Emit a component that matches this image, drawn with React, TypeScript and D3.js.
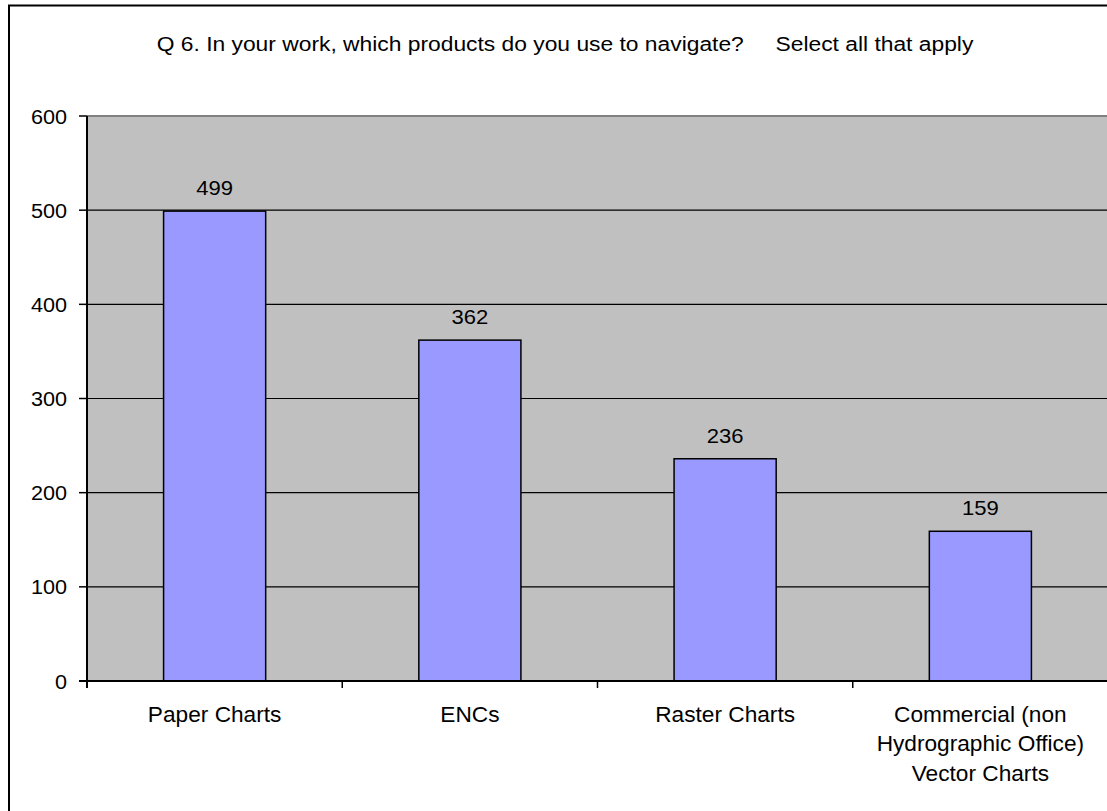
import React from "react";
import * as d3 from "d3";

const title = "Q 6. In your work, which products do you use to navigate?     Select all that apply";
const categories = ["Paper Charts", "ENCs", "Raster Charts", "Commercial (non\nHydrographic Office)\nVector Charts"];
const values = [499, 362, 236, 159];
const yTicks = [0, 100, 200, 300, 400, 500, 600];

const W = 1107;
const H = 811;
const plotLeft = 87;
const plotRight = 1108;
const plotTop = 116;
const plotBottom = 681;
const FONT = "'Liberation Sans', Arial, sans-serif";

export default function App() {
  const x = d3
    .scaleBand<string>()
    .domain(categories)
    .range([plotLeft, plotRight])
    .paddingInner(0.6)
    .paddingOuter(0.3);
  const y = d3.scaleLinear().domain([0, 600]).range([plotBottom, plotTop]);
  const step = (plotRight - plotLeft) / categories.length;
  const boundaries = d3.range(categories.length + 1).map((i) => plotLeft + i * step);

  return (
    <svg
      width={W}
      height={H}
      style={{ position: "absolute", left: 0, top: 0, background: "#fff" }}
      fontFamily={FONT}
    >
      <rect x={9} y={5.5} width={1300} height={1000} fill="#fff" stroke="#000" strokeWidth={2} />
      <text
        transform="translate(565,51) scale(1.17,1)"
        textAnchor="middle"
        fontSize={19.5}
        fill="#000"
        style={{ whiteSpace: "pre" }}
      >
        {title}
      </text>
      <rect x={plotLeft} y={plotTop} width={plotRight - plotLeft} height={plotBottom - plotTop} fill="#C0C0C0" />
      <line x1={plotLeft} x2={plotRight} y1={plotTop} y2={plotTop} stroke="#808080" strokeWidth={2} />
      {yTicks.filter((t) => t > 0 && t < 600).map((t) => (
        <line key={"g" + t} x1={plotLeft} x2={plotRight} y1={y(t)} y2={y(t)} stroke="#000" strokeWidth={1.2} />
      ))}
      {categories.map((c, i) => (
        <rect
          key={"b" + c}
          x={x(c)}
          y={y(values[i])}
          width={x.bandwidth()}
          height={y(0) - y(values[i])}
          fill="#9999FF"
          stroke="#000"
          strokeWidth={1.5}
        />
      ))}
      {categories.map((c, i) => (
        <text
          key={"v" + c}
          transform={`translate(${(x(c) as number) + x.bandwidth() / 2},${y(values[i]) - 16}) scale(1.05,1)`}
          textAnchor="middle"
          fontSize={21}
          fill="#000"
        >
          {values[i]}
        </text>
      ))}
      {/* axes */}
      <line x1={plotLeft} x2={plotLeft} y1={plotTop} y2={plotBottom + 7} stroke="#000" strokeWidth={2} />
      <line x1={plotLeft - 8} x2={plotRight} y1={plotBottom} y2={plotBottom} stroke="#000" strokeWidth={2} />
      {yTicks.map((t) => (
        <g key={"y" + t}>
          <line x1={plotLeft - 8} x2={plotLeft} y1={y(t)} y2={y(t)} stroke="#000" strokeWidth={1.5} />
          <text
            transform={`translate(67,${y(t)}) scale(1.03,1)`}
            dy="0.36em"
            textAnchor="end"
            fontSize={21}
            fill="#000"
          >
            {t}
          </text>
        </g>
      ))}
      {boundaries.map((b, i) => (
        <line key={"xt" + i} x1={b} x2={b} y1={plotBottom} y2={plotBottom + 7} stroke="#000" strokeWidth={1.5} />
      ))}
      {categories.map((c) => {
        const lines = c.split("\n");
        const cx = (x(c) as number) + x.bandwidth() / 2;
        return (
          <text
            key={"c" + c}
            transform={`translate(${cx},722) scale(1.04,1)`}
            textAnchor="middle"
            fontSize={21.8}
            fill="#000"
          >
            {lines.map((l, j) => (
              <tspan key={j} x={0} dy={j === 0 ? 0 : 29.5}>
                {l}
              </tspan>
            ))}
          </text>
        );
      })}
    </svg>
  );
}
